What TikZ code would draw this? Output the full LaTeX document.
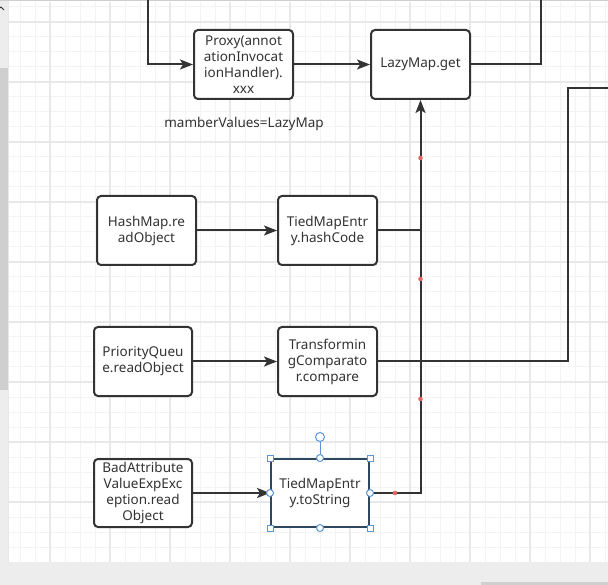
\documentclass[tikz,border=0pt]{standalone}
\usepackage{fontspec}
\setmainfont{Noto Sans}
\usetikzlibrary{arrows.meta,positioning,calc}
\definecolor{linegray}{HTML}{333333}
\definecolor{textgray}{HTML}{333333}
\definecolor{gridminor}{HTML}{F3F3F3}
\definecolor{gridmajor}{HTML}{E8E8E8}
\definecolor{paneGray}{HTML}{EDEDED}
\definecolor{thumbGray}{HTML}{CFCFCF}
\definecolor{selBlue}{HTML}{5B95D5}
\definecolor{selEdge}{HTML}{2F4860}
\definecolor{waypt}{HTML}{E06666}
\tikzset{>={Stealth[length=13pt,width=10pt,inset=3pt]}}
\tikzset{
  call/.style={draw=linegray, fill=white, line width=2pt, rounded corners=4pt,
    minimum width=99pt, minimum height=69pt, inner sep=0pt, align=center,
    text=textgray, font=\fontsize{13.5pt}{16pt}\selectfont},
  wire/.style={draw=linegray, line width=2pt},
  % handles of the selected box
  hsq/.style={draw=selBlue, fill=white, line width=1pt, minimum size=6pt, inner sep=0pt},
  hdot/.style={circle, draw=selBlue, fill=white, line width=1pt, minimum size=7pt, inner sep=0pt},
}
\begin{document}
\begin{tikzpicture}[x=1pt, y=-1pt]
  \useasboundingbox (0,0) rectangle (608,585);
  \fill[white] (0,0) rectangle (608,585);
  % grid
  \foreach \x in {20,35,...,605} \draw[gridminor, line width=1pt] (\x,2) -- (\x,562);
  \foreach \y in {7,22,...,557} \draw[gridminor, line width=1pt] (8,\y) -- (608,\y);
  \foreach \x in {50,110,...,590} \draw[gridmajor, line width=1.3pt] (\x,2) -- (\x,562);
  \foreach \y in {22,82,...,502} \draw[gridmajor, line width=1.3pt] (8,\y) -- (608,\y);
  % window frame
  \fill[paneGray] (0,0) rectangle (8,585);
  \fill[thumbGray] (0,68) rectangle (8,390);
  \draw[gridmajor, line width=1pt] (8.5,0) -- (8.5,585);
  \fill[paneGray] (8,562) rectangle (608,585);
  \fill[thumbGray] (481,582) rectangle (608,585);
  \fill[thumbGray] (0,0) rectangle (608,1.5);
  \draw[linegray, line width=1pt] (0,8) -- (1,7) -- (4,10);

  \node[call] (proxy) at (243.5,64.5) {Proxy(annot\\ationInvocat\\ionHandler).\\xxx};
  \node[call] (lazy) at (420.5,64.5) {LazyMap.get};
  \node[text=textgray, font=\fontsize{13.5pt}{16pt}\selectfont] (memo) at (244,124) {mamberValues=LazyMap};
  \node[call] (hashmap) at (146.5,230.5) {HashMap.re\\adObject};
  \node[call] (hashcode) at (327.5,230.5) {TiedMapEntr\\y.hashCode};
  \node[call, minimum width=98pt] (pq) at (143,361.5) {PriorityQueu\\e.readObject};
  \node[call] (cmp) at (327.5,361.5) {Transformin\\gComparato\\r.compare};
  \node[call, minimum width=98pt, minimum height=68pt] (bad) at (143,493) {BadAttribute\\ValueExpExc\\eption.read\\Object};
  \node[call, draw=selEdge, rounded corners=0pt, minimum width=98pt, minimum height=68pt] (tostr) at (320,493) {TiedMapEntr\\y.toString};

  \coordinate (topin) at (148,0);
  \coordinate (topout) at (541,0);
  \coordinate (cmpturn) at (568,88);
  \coordinate (cmpout) at (608,88);

  \draw[wire,->] (topin) |- (proxy.west);
  \draw[wire,->] (proxy) -- (lazy);
  \draw[wire] (lazy.east) -| (topout);
  \draw[wire,->] (hashmap) -- (hashcode);
  \draw[wire,->] (pq) -- (cmp);
  \draw[wire,->] (bad) -- (tostr);
  \draw[wire,->] (tostr.east) -| (lazy.south);
  \draw[wire] (hashcode.east) -- (hashcode.east -| lazy.south);
  \draw[wire] (cmp.east) -| (cmpturn) -- (cmpout);

  % waypoints
  \foreach \y in {158,279,399} \fill[waypt] (420.5,\y) circle (2.3);
  \fill[waypt] (395,493) circle (2.3);

  % selection handles
  \node[hdot, minimum size=9pt] (rot) at (320,437) {};
  \draw[selBlue, line width=1pt] (rot) -- (tostr.north);
  \foreach \a in {north west,north east,south west,south east}
    \node[hsq] at (tostr.\a) {};
  \foreach \a in {north,south,west,east}
    \node[hdot] at (tostr.\a) {};
\end{tikzpicture}
\end{document}
